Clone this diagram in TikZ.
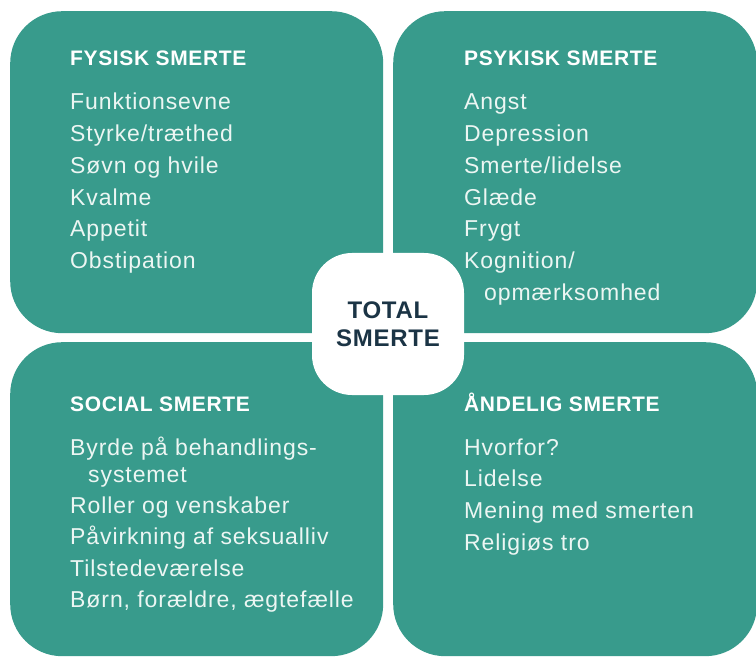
\documentclass[tikz,border=0pt]{standalone}
\usepackage{fontspec}
\setmainfont{Liberation Sans}
\newfontfamily\itemfont[LetterSpace=4]{Liberation Sans}
\newfontfamily\headfont[LetterSpace=3]{Liberation Sans}
\usetikzlibrary{positioning}

\definecolor{panelteal}{RGB}{56,155,140}
\definecolor{itemwhite}{RGB}{236,246,243}
\definecolor{hubink}{RGB}{27,52,69}

\begin{document}
\begin{tikzpicture}[x=1pt,y=-1pt,
    panel/.style={fill=panelteal, rounded corners=52pt, inner sep=0pt,
        minimum width=365pt, minimum height=322pt, anchor=north west},
    hub/.style={fill=white, rounded corners=40pt, inner sep=0pt,
        minimum width=152pt, minimum height=142pt, align=center, text=hubink,
        font=\headfont\bfseries\fontsize{24}{28}\selectfont},
    head/.style={anchor=base west, inner sep=0pt, text=white,
        font=\headfont\bfseries\fontsize{21}{25}\selectfont},
    item/.style={anchor=base west, inner sep=0pt, text=itemwhite,
        font=\itemfont\fontsize{23}{32}\selectfont}]

    \useasboundingbox (0,0) rectangle (756,658);

    % the four panels
    \node[panel, minimum width=373pt] (fys) at (10,11) {};
    \node[panel, minimum width=364pt] (psy) at (393,11) {};
    \node[panel, minimum width=373pt, minimum height=314pt] (soc) at (10,342) {};
    \node[panel, minimum width=364pt, minimum height=314pt] (and) at (393,342) {};

    % total smerte in the middle
    \node[hub] (total) at (388,324) {TOTAL\\SMERTE};

    % fysisk
    \node[head] (fysh) at (70,66) {FYSISK SMERTE};
    \foreach \txt [count=\i] in {Funktionsevne, Styrke/træthed, Søvn og hvile,
        Kvalme, Appetit, Obstipation}
      \node[item] (fys-\i) at (70,110+31.7*\i-31.7) {\txt};

    % psykisk
    \node[head] (psyh) at (464,66) {PSYKISK SMERTE};
    \foreach \txt [count=\i] in {Angst, Depression, Smerte/lidelse,
        Glæde, Frygt, Kognition/}
      \node[item] (psy-\i) at (464,110+31.7*\i-31.7) {\txt};
    \node[item] (psy-7) at (484,300) {opmærksomhed};

    % social
    \node[head] (soch) at (70,411) {SOCIAL SMERTE};
    \node[item] (soc-1) at (70,455) {Byrde på behandlings-};
    \node[item] (soc-2) at (88,482) {systemet};
    \foreach \txt [count=\i from 3] in {Roller og venskaber, Påvirkning af seksualliv,
        Tilstedeværelse, {Børn, forældre, ægtefælle}}
      \node[item] (soc-\i) at (70,513+31.5*\i-94.5) {\txt};

    % aandelig
    \node[head] (andh) at (464,411) {ÅNDELIG SMERTE};
    \foreach \txt [count=\i] in {Hvorfor?, Lidelse, Mening med smerten, Religiøs tro}
      \node[item] (and-\i) at (464,455+31.7*\i-31.7) {\txt};
\end{tikzpicture}
\end{document}
